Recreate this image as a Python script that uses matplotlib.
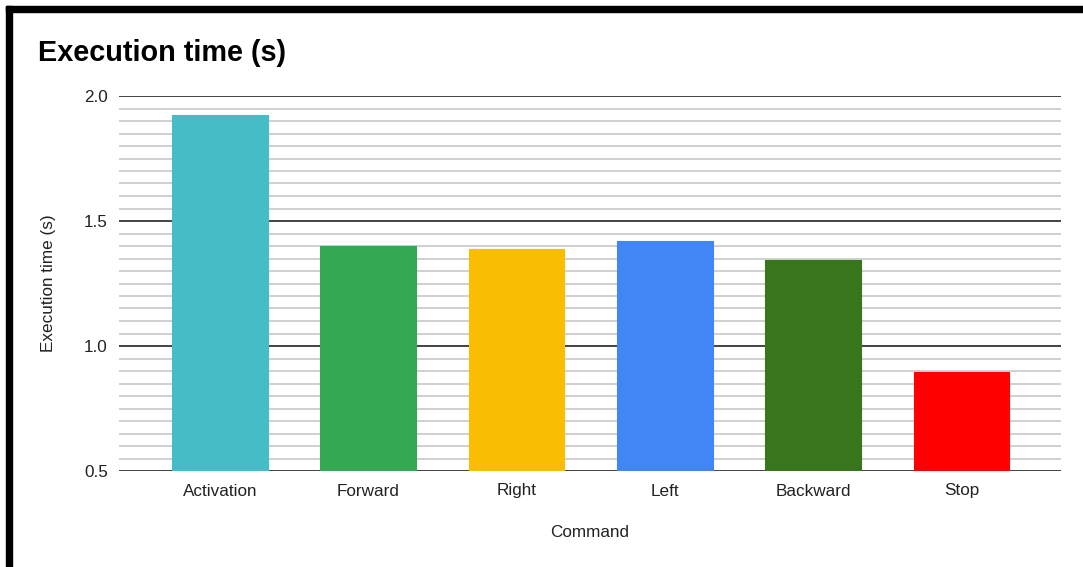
import matplotlib
matplotlib.use('Agg')
import matplotlib.pyplot as plt
from matplotlib.patches import Rectangle
from matplotlib.ticker import MultipleLocator

# Data
commands = ['Activation', 'Forward', 'Right', 'Left', 'Backward', 'Stop']
exec_times = [1.925, 1.40, 1.39, 1.42, 1.345, 0.895]
bar_colors = ['#46BDC6', '#34A853', '#FBBC04', '#4285F4', '#38761D', '#FF0000']

plt.rcParams['font.family'] = ['Liberation Sans', 'DejaVu Sans']

W, H = 1083, 567
fig = plt.figure(figsize=(W / 100, H / 100), dpi=100)
ax = fig.add_axes([119 / W, 1 - 471 / H, (1061 - 119) / W, (471 - 96) / H])

x = range(len(commands))
ax.bar(x, exec_times, width=0.645, color=bar_colors, edgecolor=bar_colors,
       linewidth=0.8, joinstyle='round', zorder=3)

ax.set_ylim(0.5, 2.0)
ax.set_xlim(-0.68, len(commands) - 0.33)
ax.yaxis.set_major_locator(MultipleLocator(0.5))
ax.yaxis.set_minor_locator(MultipleLocator(0.05))
ax.grid(which='major', axis='y', color='#222222', linewidth=1.2, zorder=1)
ax.grid(which='minor', axis='y', color='#c8c8c8', linewidth=1.2, zorder=1)
ax.set_yticks([0.5, 1.0, 1.5, 2.0])
ax.set_yticklabels(['0.5', '1.0', '1.5', '2.0'])
ax.set_xticks(list(x))
ax.set_xticklabels(commands)
ax.tick_params(axis='both', which='both', length=0, labelsize=12.3, colors='#222222')
ax.tick_params(axis='y', pad=8)
ax.tick_params(axis='x', pad=9)
for s in ax.spines.values():
    s.set_visible(False)

ax.set_xlabel('Command', fontsize=12.3, color='#222222', labelpad=19)
ax.set_ylabel('Execution time (s)', fontsize=12.3, color='#222222', labelpad=20)

fig.text(38 / W, 1 - 53 / H, 'Execution time (s)', fontsize=20.8,
         fontweight='bold', va='center', ha='left', color='#000000')

# black frame on top and left edges
fig.patches.append(Rectangle((6 / W, 1 - 12 / H), 1, 6 / H,
                             transform=fig.transFigure, color='black'))
fig.patches.append(Rectangle((6 / W, 0), 6 / W, 1 - 6 / H,
                             transform=fig.transFigure, color='black'))

fig.savefig('out.png', dpi=100)
